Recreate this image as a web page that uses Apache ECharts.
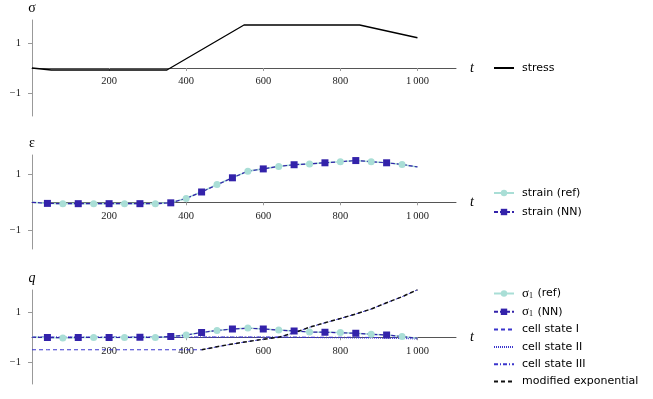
<!DOCTYPE html>
<html>
<head>
<meta charset="utf-8">
<script src="https://cdn.jsdelivr.net/npm/echarts@6/dist/echarts.min.js"></script>
<style>html,body{margin:0;padding:0;background:#fff}#chart{width:653px;height:399px}</style>
</head>
<body>
<div id="chart"></div>
<script>
// stress input (piecewise linear)
const stressT = [0, 50, 350, 550, 850, 1000];
const stressY = [0, -0.08, -0.08, 1.72, 1.72, 1.21];

// sample times for strain / sigma curves
const sampleT = [0, 40, 80, 120, 160, 200, 240, 280, 320, 360, 400, 440, 480,
  520, 560, 600, 640, 680, 720, 760, 800, 840, 880, 920, 960, 1000];

const strainRef = [0, -0.04, -0.05, -0.05, -0.05, -0.05, -0.05, -0.05, -0.05, -0.02,
  0.14, 0.38, 0.64, 0.88, 1.12, 1.2, 1.29, 1.35, 1.38, 1.42, 1.46, 1.5, 1.46, 1.42, 1.36, 1.27];
const strainNN = [0, -0.04, -0.05, -0.05, -0.05, -0.05, -0.05, -0.05, -0.05, -0.02,
  0.14, 0.37, 0.63, 0.88, 1.12, 1.2, 1.29, 1.35, 1.38, 1.42, 1.46, 1.5, 1.46, 1.42, 1.36, 1.27];

const sigmaRef = [0, -0.01, -0.03, -0.01, -0.01, -0.01, -0.01, 0, -0.01, 0.03,
  0.09, 0.19, 0.27, 0.33, 0.37, 0.33, 0.29, 0.25, 0.21, 0.2, 0.19, 0.16, 0.12, 0.09, 0.03, -0.04];
const sigmaNN = [0, -0.01, -0.02, -0.01, -0.01, -0.01, -0.01, 0, -0.01, 0.03,
  0.09, 0.19, 0.27, 0.33, 0.36, 0.33, 0.29, 0.25, 0.21, 0.2, 0.18, 0.16, 0.12, 0.09, 0.03, -0.04];

const cellI = [-0.5, -0.5, -0.5, -0.5, -0.5, -0.5, -0.5, -0.5, -0.5, -0.5, -0.5,
  -0.5, -0.38, -0.27, -0.17, -0.08, 0, 0.18, 0.4, 0.58, 0.75, 0.93, 1.13, 1.38, 1.62, 1.9];
const cellII = [0, 0, 0, 0, 0, 0, 0, 0, 0, 0, 0, 0, 0, 0, 0, 0, 0,
  -0.01, -0.01, -0.02, -0.02, -0.03, -0.03, -0.04, -0.05, -0.07];
const cellIII = [0.01, 0.01, 0.01, 0.01, 0.01, 0.01, 0.01, 0.01, 0.01, 0.01, 0.01, 0.01, 0.01,
  0.01, 0.01, 0.01, 0.01, 0.01, 0, 0, 0, 0, -0.01, -0.01, -0.02, -0.03];

const expT = [440, 480, 520, 560, 600, 640, 680, 720, 760, 800, 840, 880, 920, 960, 1000];
const modExp = [-0.5, -0.38, -0.27, -0.17, -0.08, 0, 0.18, 0.4, 0.58, 0.75, 0.93, 1.13, 1.38, 1.62, 1.9];

const xTicks = [200, 400, 600, 800, 1000];
const yTicks = [-1, 1];

const mint = "#a9ded6";
const navy = "#3322aa";
const blue = "#3a35cc";
const serif = "Liberation Serif";
const sans = "DejaVu Sans";

function pairs(xs, ys) {
  return xs.map((x, i) => [x, ys[i]]);
}

// markers every 80 with a phase, like pgfplots mark repeat
function marked(xs, ys, keep) {
  return xs.map((x, i) => keep(i) ? [x, ys[i]] : { value: [x, ys[i]], symbol: "none" });
}
const refMarks = i => i % 2 === 0 && i > 0 && i < 25;
const nnMarks = i => i % 2 === 1 && i < 25;

const grids = [
  { left: 32, width: 424, top: 20, height: 96 },
  { left: 32, width: 424, top: 155, height: 94 },
  { left: 32, width: 424, top: 290, height: 94 }
];
const yRanges = [[-1.92, 1.92], [-1.68, 1.70], [-1.87, 1.89]];
const yNames = [
  { text: "σ", italic: false },
  { text: "ε", italic: false },
  { text: "q", italic: true }
];

// x axis sits on y = 0: shift it up from the grid bottom
const xAxes = grids.map((g, i) => ({
  type: "value",
  gridIndex: i,
  min: 0,
  max: 1100,
  offset: -g.height * (-yRanges[i][0]) / (yRanges[i][1] - yRanges[i][0]),
  name: "t",
  nameLocation: "end",
  nameGap: 14,
  nameTextStyle: { fontFamily: serif, fontStyle: "italic", fontSize: 14, color: "#000" },
  axisLine: { onZero: false, lineStyle: { color: "#555", width: 1 } },
  axisTick: { show: true, length: 3, customValues: xTicks, lineStyle: { color: "#999" } },
  axisLabel: {
    customValues: xTicks,
    margin: 8,
    fontFamily: serif,
    fontSize: 10.5,
    color: "#222",
    formatter: v => v >= 1000 ? "1\u2009000" : String(v)
  },
  splitLine: { show: false }
}));

const yAxes = grids.map((g, i) => ({
  type: "value",
  gridIndex: i,
  min: yRanges[i][0],
  max: yRanges[i][1],
  name: yNames[i].text,
  nameLocation: "end",
  nameGap: 5,
  nameTextStyle: { fontFamily: serif, fontStyle: yNames[i].italic ? "italic" : "normal", fontSize: 14, color: "#000", align: "center" },
  axisLine: { onZero: false, lineStyle: { color: "#999", width: 1 } },
  axisTick: { show: true, length: 4, customValues: yTicks, lineStyle: { color: "#999" } },
  axisLabel: {
    customValues: yTicks,
    margin: 11,
    fontFamily: serif,
    fontSize: 10.5,
    color: "#222",
    formatter: v => v < 0 ? "\u2212" + (-v) : String(v)
  },
  splitLine: { show: false }
}));

const series = [
  {
    name: "stress", type: "line", xAxisIndex: 0, yAxisIndex: 0,
    data: pairs(stressT, stressY), symbol: "none",
    lineStyle: { color: "#000", width: 1.3 }, itemStyle: { color: "#000" }
  },
  {
    name: "strain (ref)", type: "line", xAxisIndex: 1, yAxisIndex: 1,
    data: marked(sampleT, strainRef, refMarks), symbol: "circle", symbolSize: 7, showAllSymbol: true,
    lineStyle: { color: mint, width: 1.6 }, itemStyle: { color: mint }
  },
  {
    name: "strain (NN)", type: "line", xAxisIndex: 1, yAxisIndex: 1,
    data: marked(sampleT, strainNN, nnMarks), symbol: "rect", symbolSize: 7, showAllSymbol: true,
    lineStyle: { color: navy, width: 1.2, type: [4, 2] }, itemStyle: { color: navy }
  },
  {
    name: "cell state I", type: "line", xAxisIndex: 2, yAxisIndex: 2,
    data: pairs(sampleT, cellI), symbol: "none",
    lineStyle: { color: blue, width: 1, type: [4, 3] }, itemStyle: { color: blue }
  },
  {
    name: "cell state II", type: "line", xAxisIndex: 2, yAxisIndex: 2,
    data: pairs(sampleT, cellII), symbol: "none",
    lineStyle: { color: blue, width: 1, type: [1, 1] }, itemStyle: { color: blue }
  },
  {
    name: "cell state III", type: "line", xAxisIndex: 2, yAxisIndex: 2,
    data: pairs(sampleT, cellIII), symbol: "none",
    lineStyle: { color: blue, width: 1, type: [4, 2, 1, 2] }, itemStyle: { color: blue }
  },
  {
    name: "σ1 (ref)", type: "line", xAxisIndex: 2, yAxisIndex: 2,
    data: marked(sampleT, sigmaRef, refMarks), symbol: "circle", symbolSize: 7, showAllSymbol: true,
    lineStyle: { color: mint, width: 1.6 }, itemStyle: { color: mint }
  },
  {
    name: "σ1 (NN)", type: "line", xAxisIndex: 2, yAxisIndex: 2,
    data: marked(sampleT, sigmaNN, nnMarks), symbol: "rect", symbolSize: 7, showAllSymbol: true,
    lineStyle: { color: navy, width: 1.2, type: [4, 2] }, itemStyle: { color: navy }
  },
  {
    name: "modified exponential", type: "line", xAxisIndex: 2, yAxisIndex: 2,
    data: pairs(expT, modExp), symbol: "none",
    lineStyle: { color: "#111", width: 1.5, type: [4, 3] }, itemStyle: { color: "#111" }
  }
];

const legendText = {
  fontFamily: sans, fontSize: 11, color: "#000", lineHeight: 12, padding: [0, 0, 0, 3],
  rich: {
    m: { fontFamily: serif, fontSize: 13, color: "#000" },
    s: { fontFamily: serif, fontSize: 8, color: "#000", padding: [5, 1, 0, 0] }
  }
};
function legendFmt(n) {
  return n.indexOf("σ1") === 0 ? "{m|σ}{s|1}" + n.slice(2) : n;
}
// line-only series get an invisible legend marker
const noMarker = ["stress", "cell state I", "cell state II", "cell state III", "modified exponential"];
function legend(names, top, gap) {
  return {
    data: names.map(n => noMarker.includes(n) ? { name: n, itemStyle: { opacity: 0 } } : n),
    orient: "vertical", left: 493, top: top, padding: 0,
    itemWidth: 20, itemHeight: 8, itemGap: gap, selectedMode: false,
    textStyle: legendText, formatter: legendFmt
  };
}

const chart = echarts.init(document.getElementById("chart"), null, { renderer: "canvas" });
chart.setOption({
  animation: false,
  backgroundColor: "#fff",
  grid: grids,
  xAxis: xAxes,
  yAxis: yAxes,
  legend: [
    legend(["stress"], 62, 6),
    legend(["strain (ref)", "strain (NN)"], 187, 7),
    legend(["σ1 (ref)", "σ1 (NN)", "cell state I", "cell state II", "cell state III", "modified exponential"], 287, 5.3)
  ],
  series: series
});
</script>
</body>
</html>
